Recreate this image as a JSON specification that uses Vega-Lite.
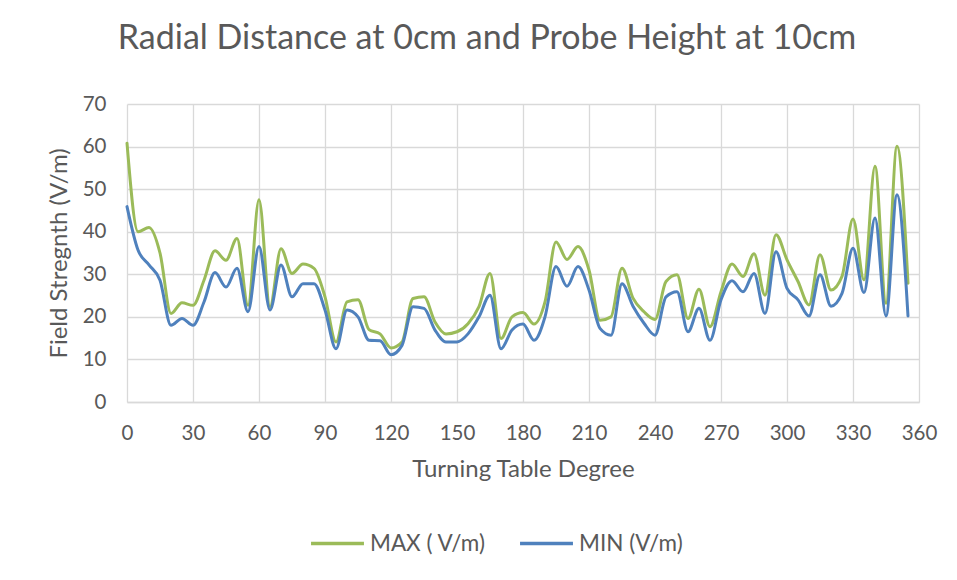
{
  "$schema": "https://vega.github.io/schema/vega-lite/v6.json",
  "width": 792,
  "height": 298,
  "autosize": {"type": "none"},
  "padding": {"left": 127, "top": 104, "right": 38, "bottom": 178},
  "background": "white",
  "title": {
    "text": "Radial Distance at 0cm and Probe Height at 10cm",
    "font": "Lato",
    "fontSize": 34,
    "fontWeight": "normal",
    "color": "#595959",
    "anchor": "middle",
    "dx": -36,
    "offset": 38
  },
  "datasets": {
    "raw": [
      {"deg": 0, "max": 60.8, "min": 45.9},
      {"deg": 5, "max": 40, "min": 35.7},
      {"deg": 10, "max": 41, "min": 32.2},
      {"deg": 15, "max": 35, "min": 28.6},
      {"deg": 20, "max": 20.8, "min": 18},
      {"deg": 25, "max": 23.3, "min": 19.6},
      {"deg": 30, "max": 22.7, "min": 18},
      {"deg": 35, "max": 28.6, "min": 23.5},
      {"deg": 40, "max": 35.5, "min": 30.4},
      {"deg": 45, "max": 33.3, "min": 27},
      {"deg": 50, "max": 38.4, "min": 31.4},
      {"deg": 55, "max": 22.7, "min": 21.2},
      {"deg": 60, "max": 47.5, "min": 36.5},
      {"deg": 65, "max": 22.4, "min": 21.6},
      {"deg": 70, "max": 36, "min": 32.2},
      {"deg": 75, "max": 30.2, "min": 24.7},
      {"deg": 80, "max": 32.4, "min": 27.8},
      {"deg": 85, "max": 31.4, "min": 27.8},
      {"deg": 90, "max": 24.7, "min": 21.6},
      {"deg": 95, "max": 14.1, "min": 12.5},
      {"deg": 100, "max": 23.5, "min": 21.6},
      {"deg": 105, "max": 24, "min": 20},
      {"deg": 110, "max": 17, "min": 14.5},
      {"deg": 115, "max": 16, "min": 14.4},
      {"deg": 120, "max": 12.7, "min": 11.1},
      {"deg": 125, "max": 14.1, "min": 13.3},
      {"deg": 130, "max": 24.3, "min": 22.4},
      {"deg": 135, "max": 24.7, "min": 22},
      {"deg": 140, "max": 18.8, "min": 16.9},
      {"deg": 145, "max": 16, "min": 14.1},
      {"deg": 150, "max": 16.5, "min": 14.1},
      {"deg": 155, "max": 18.4, "min": 16},
      {"deg": 160, "max": 22.4, "min": 20},
      {"deg": 165, "max": 30.2, "min": 25.1},
      {"deg": 170, "max": 14.9, "min": 12.5},
      {"deg": 175, "max": 20, "min": 16.9},
      {"deg": 180, "max": 21, "min": 18.3},
      {"deg": 185, "max": 18.3, "min": 14.5},
      {"deg": 190, "max": 23.5, "min": 20},
      {"deg": 195, "max": 37.6, "min": 31.8},
      {"deg": 200, "max": 33.5, "min": 27.2},
      {"deg": 205, "max": 36.5, "min": 31.8},
      {"deg": 210, "max": 31, "min": 26.3},
      {"deg": 215, "max": 19.2, "min": 17.3},
      {"deg": 220, "max": 20, "min": 15.7},
      {"deg": 225, "max": 31.4, "min": 27.8},
      {"deg": 230, "max": 24.4, "min": 22.5},
      {"deg": 235, "max": 21.2, "min": 18.5},
      {"deg": 240, "max": 19.4, "min": 15.7},
      {"deg": 245, "max": 28.3, "min": 24.7},
      {"deg": 250, "max": 29.9, "min": 25.9},
      {"deg": 255, "max": 19.6, "min": 16.5},
      {"deg": 260, "max": 26.5, "min": 22},
      {"deg": 265, "max": 17.7, "min": 14.5},
      {"deg": 270, "max": 25.9, "min": 24},
      {"deg": 275, "max": 32.4, "min": 28.5},
      {"deg": 280, "max": 29.5, "min": 25.9},
      {"deg": 285, "max": 34.8, "min": 30.2},
      {"deg": 290, "max": 25.1, "min": 20.8},
      {"deg": 295, "max": 39.3, "min": 35.3},
      {"deg": 300, "max": 33.4, "min": 26.7},
      {"deg": 305, "max": 28.3, "min": 24},
      {"deg": 310, "max": 22.8, "min": 20.2},
      {"deg": 315, "max": 34.6, "min": 29.9},
      {"deg": 320, "max": 26.3, "min": 22.5},
      {"deg": 325, "max": 29.5, "min": 25.5},
      {"deg": 330, "max": 43, "min": 36.1},
      {"deg": 335, "max": 28.7, "min": 25.7},
      {"deg": 340, "max": 55.4, "min": 43.2},
      {"deg": 345, "max": 23.2, "min": 20.2},
      {"deg": 350, "max": 60.1, "min": 48.7},
      {"deg": 355, "max": 27.9, "min": 20.2}
    ]
  },
  "data": {"name": "raw"},
  "transform": [
    {"fold": ["max", "min"], "as": ["key", "value"]},
    {"lookup": "key", "from": {"data": {"values": [{"key": "max", "series": "MAX ( V/m)"}, {"key": "min", "series": "MIN (V/m)"}]}, "key": "key", "fields": ["series"]}}
  ],
  "mark": {"type": "line", "interpolate": "monotone", "strokeWidth": 3, "strokeCap": "round", "strokeJoin": "round"},
  "encoding": {
    "x": {
      "field": "deg",
      "type": "quantitative",
      "scale": {"domain": [0, 360], "nice": false, "zero": true},
      "axis": {
        "title": "Turning Table Degree",
        "values": [0, 30, 60, 90, 120, 150, 180, 210, 240, 270, 300, 330, 360],
        "grid": true,
        "gridColor": "#d9d9d9",
        "gridWidth": 1.3,
        "domainColor": "#d9d9d9",
        "domainWidth": 1.3,
        "ticks": false,
        "labelPadding": 21,
        "labelFont": "Lato",
        "labelFontSize": 20.5,
        "labelColor": "#595959",
        "labelFlush": false,
        "titleFont": "Lato",
        "titleFontSize": 24,
        "titleFontWeight": "normal",
        "titleColor": "#595959",
        "titlePadding": 14
      }
    },
    "y": {
      "field": "value",
      "type": "quantitative",
      "scale": {"domain": [0, 70], "nice": false},
      "axis": {
        "title": "Field Stregnth (V/m)",
        "values": [0, 10, 20, 30, 40, 50, 60, 70],
        "grid": true,
        "gridColor": "#d9d9d9",
        "gridWidth": 1.3,
        "domain": false,
        "ticks": false,
        "labelPadding": 21,
        "labelFont": "Lato",
        "labelFontSize": 20.5,
        "labelColor": "#595959",
        "titleFont": "Lato",
        "titleFontSize": 24,
        "titleFontWeight": "normal",
        "titleColor": "#595959",
        "titlePadding": 11
      }
    },
    "color": {
      "field": "series",
      "type": "nominal",
      "scale": {"domain": ["MAX ( V/m)", "MIN (V/m)"], "range": ["#9BBB59", "#4F81BD"]},
      "legend": {
        "title": null,
        "orient": "none",
        "direction": "horizontal",
        "legendX": 182,
        "legendY": 411,
        "symbolType": "stroke",
        "symbolSize": 2800,
        "symbolStrokeWidth": 3.5,
        "labelFont": "Lato",
        "labelFontSize": 22.5,
        "labelColor": "#595959",
        "columnPadding": 27,
        "labelOffset": 4
      }
    },
    "order": {"field": "deg", "type": "quantitative"}
  },
  "config": {"view": {"stroke": null}}
}
